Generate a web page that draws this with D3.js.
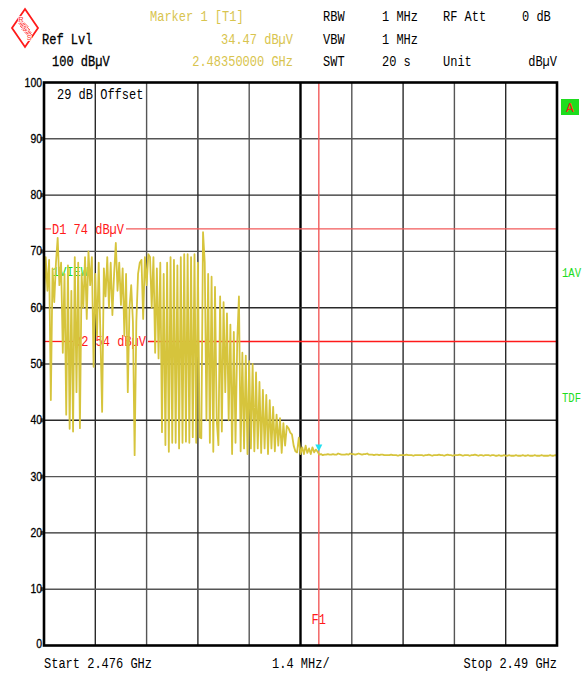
<!DOCTYPE html>
<html>
<head>
<meta charset="utf-8">
<script src="https://cdn.jsdelivr.net/npm/d3@7"></script>
<style>
body { margin: 0; background: white; }
</style>
</head>
<body>
<svg id="chart"></svg>
<script>
//Sweep settings (MHz)
var startFreq = 2476;
var stopFreq = 2490;
var markerFreq = 2483.5;
var markerLevel = 34.47;

//Y axis ticks (dBuV)
var yTicks = [0, 10, 20, 30, 40, 50, 60, 70, 80, 90, 100];
var yTickLabels = ["0", "10", "20", "30", "40", "50", "60", "70", "80", "90", "100"];

//Display lines
var lineNames = ["D1", "D2"];
var lineLevels = [74, 54];

//Trace levels, sweep points equally spaced from start to stop
var traceNoisy = [
    61, 69, 63, 68.5, 43.6, 67, 61, 68, 72.4, 64,
    68, 52, 66, 41, 67.5, 38.5, 63, 38, 69, 45,
    68, 38.6, 66, 60, 69, 58, 70, 64, 69, 49.5,
    66, 55, 68, 55, 41.5, 67, 62, 69, 60, 68,
    58.7, 66, 71.5, 63, 68, 60.5, 67, 55, 66, 45,
    60, 64, 57.5, 33.8, 57.5, 66, 68, 68.5, 58, 69,
    64, 69.5, 69, 60, 69, 52, 67, 51, 68, 37.9,
    66, 35.6, 68, 34.4, 69, 36, 68.5, 36, 67.5, 35,
    69, 36, 69.5, 36.2, 69.5, 36, 69, 37, 69.5, 36,
    68, 37, 36.8, 73.4, 68, 40, 66, 36, 65.5, 34.4,
    63.7, 40, 35.6, 62, 38, 61, 45, 59, 40, 57,
    34, 55.7, 36, 54, 62, 34.5, 52, 35, 51.5, 34,
    50.5, 35, 50, 34.5, 48.5, 35, 46.8, 34.2, 45.4, 35,
    44.5, 34, 43.6, 35, 42.4, 34.5, 41, 35.5, 40.4, 34.2,
    39.5, 35.5, 39, 38.6, 37.8, 37.5, 35.5, 34.5, 34.3, 36.9,
    34, 35.2, 34, 35.5, 34.2, 35, 34, 35.2, 34.3, 34.8,
    34.4
];
var traceFlat = [
    33.9, 34.0, 33.8, 33.9, 33.9, 34.0, 33.9, 33.9, 34.0, 33.9,
    33.9, 34.1, 34.0, 33.9, 33.9, 33.9, 34.0, 33.9, 34.1, 34.0,
    34.0, 33.9, 34.0, 34.1, 34.0, 33.9, 34.0, 34.0, 34.1, 33.9,
    33.9, 33.9, 33.8, 33.9, 33.9, 33.8, 33.9, 33.9, 33.8, 33.8,
    33.8, 33.8, 33.9, 33.8, 33.8, 33.8, 33.7, 33.8, 33.8, 33.8,
    33.8, 33.9, 33.8, 33.8, 33.8, 33.7, 33.8, 33.8, 33.8, 33.8,
    33.8, 33.7, 33.8, 33.8, 33.9, 33.8, 33.7, 33.8, 33.8, 33.8,
    33.9, 33.8, 33.8, 33.7, 33.8, 33.9, 33.8, 33.8, 33.7, 33.8,
    33.8, 33.8, 33.9, 33.8, 33.7, 33.8, 33.8, 33.8, 33.7, 33.8,
    33.8, 33.9, 33.8, 33.7, 33.8, 33.8, 33.7, 33.8, 33.8, 33.8,
    33.7, 33.8, 33.8, 33.7, 33.7, 33.8, 33.7, 33.7, 33.8, 33.7,
    33.7, 33.8, 33.7, 33.7, 33.7, 33.8, 33.7, 33.7, 33.7, 33.8,
    33.7, 33.7, 33.8, 33.7, 33.7, 33.7, 33.8, 33.7, 33.7, 33.7,
    33.8, 33.7, 33.7, 33.7, 33.7, 33.8, 33.7, 33.7, 33.8, 33.7
];
var traceLevels = traceNoisy.concat(traceFlat);

//Colors
var colors = {
    "trace": "#d6c43c",
    "marker": "#d8c44e",
    "red": "#ff1a1a",
    "lightRed": "#f25a5a",
    "green": "#1edc1e",
    "grid": "#2a2a2a",
    "cyan": "#22e0f0",
    "black": "black"
};

var svgWidth = 584;
var svgHeight = 673;
var plotLeft = 44, plotRight = 557, plotTop = 82.5, plotBottom = 645.5;
var mono = "'Liberation Mono', 'DejaVu Sans Mono', monospace";
var charW = 7.2;

var svg = d3.select("#chart").attr("width", svgWidth).attr("height", svgHeight);

var x = d3.scaleLinear().domain([startFreq, stopFreq]).range([plotLeft, plotRight]);
var y = d3.scaleLinear().domain([0, 100]).range([plotBottom, plotTop]);

//Write screen text squeezed to the analyzer's narrow font
function label(px, py, str, color, anchor) {
    return svg.append("text")
    .attr("x", px)
    .attr("y", py)
    .attr("text-anchor", anchor || "start")
    .attr("font-family", mono)
    .attr("font-size", 14)
    .attr("textLength", str.length * charW)
    .attr("lengthAdjust", "spacingAndGlyphs")
    .style("fill", color || colors["black"])
    .text(str);
}

//Header block
label(150, 21, "Marker 1 [T1]", colors["marker"]);
label(293, 44, "34.47 dB\u00b5V", colors["marker"], "end");
label(293, 66, "2.48350000 GHz", colors["marker"], "end");
label(42, 44, "Ref Lvl").style("stroke", "black").style("stroke-width", 0.3);
label(52, 66, "100 dB\u00b5V").style("stroke", "black").style("stroke-width", 0.3);
label(323, 21, "RBW");
label(382, 21, "1 MHz");
label(443, 21, "RF Att");
label(522, 21, "0 dB");
label(323, 44, "VBW");
label(382, 44, "1 MHz");
label(323, 66, "SWT");
label(382, 66, "20 s");
label(443, 66, "Unit");
label(557, 66, "dB\u00b5V", colors["black"], "end");

//R&S logo
svg.append("clipPath").attr("id", "logoClip")
.append("path").attr("d", "M0,-19 L13,0 L0,19 L-13,0 Z");
var logo = svg.append("g").attr("transform", "translate(25,28)");
logo.append("path")
.attr("d", "M0,-19 L13,0 L0,19 L-13,0 Z")
.attr("fill", "none")
.attr("stroke", colors["red"])
.attr("stroke-width", 1.8);
[-9, -6, -3, 0, 3, 6, 9].forEach(function(o) {
    logo.append("line")
    .attr("x1", -8 + o * 0.5).attr("y1", -8 + o)
    .attr("x2", 8 + o * 0.5).attr("y2", 8 + o)
    .attr("stroke", colors["red"]).attr("stroke-width", 0.7)
    .attr("clip-path", "url(#logoClip)");
});
[["R", -4, -6], ["&", 0, 3], ["S", 4, 12]].forEach(function(l) {
    logo.append("text")
    .attr("x", l[1]).attr("y", l[2])
    .attr("font-family", "'Liberation Sans', sans-serif")
    .attr("font-size", 7)
    .attr("text-anchor", "middle")
    .style("fill", colors["red"])
    .style("stroke", "white")
    .style("stroke-width", 1.5)
    .style("paint-order", "stroke")
    .text(l[0]);
});

//Grid
var xDivs = d3.range(0, 11).map(function(i) {return startFreq + i * (stopFreq - startFreq) / 10;});
svg.append("g").selectAll("line")
.data(xDivs.slice(1, 10))
.enter()
.append("line")
.attr("x1", function(d) {return x(d);})
.attr("x2", function(d) {return x(d);})
.attr("y1", plotTop)
.attr("y2", plotBottom)
.attr("stroke", function(d, i) {return i == 4 ? colors["black"] : (i % 2 ? "#555" : colors["grid"]);})
.attr("stroke-width", function(d, i) {return i == 4 ? 2.4 : 1.4;});

svg.append("g").selectAll("line")
.data(yTicks.slice(1, 10))
.enter()
.append("line")
.attr("x1", plotLeft)
.attr("x2", plotRight)
.attr("y1", function(d) {return y(d);})
.attr("y2", function(d) {return y(d);})
.attr("stroke", function(d, i) {return i % 2 ? colors["grid"] : "#555";})
.attr("stroke-width", 1.4);

//small ticks on the left edge
svg.append("g").selectAll("rect")
.data(yTicks.slice(1, 10))
.enter()
.append("rect")
.attr("x", plotLeft - 3.5)
.attr("y", function(d) {return y(d) - 2;})
.attr("width", 3)
.attr("height", 4)
.attr("fill", "#555");

//Y axis labels
svg.append("g").selectAll("text")
.data(yTicks)
.enter()
.append("text")
.attr("x", plotLeft - 2)
.attr("y", function(d) {return y(d) + (d == 0 ? 2 : 4);})
.attr("text-anchor", "end")
.attr("font-family", "'Liberation Sans', sans-serif")
.attr("font-size", 13)
.attr("textLength", function(d, i) {return yTickLabels[i].length * 5.8;})
.attr("lengthAdjust", "spacingAndGlyphs")
.style("fill", colors["black"])
.style("stroke", colors["black"])
.style("stroke-width", 0.3)
.text(function(d, i) {return yTickLabels[i];});

//Offset note and trace info
label(57, 99, "29 dB Offset");
label(52, 276, "1VIEW", colors["green"]).attr("font-size", 12);

//Display lines with labels
lineLevels.forEach(function(lv, i) {
    var txt = lineNames[i] + " " + lv + " dB\u00b5V";
    var tx = i == 0 ? 52 : 74;
    var ly = y(lv);
    svg.append("line")
    .attr("x1", plotLeft).attr("x2", tx - 1)
    .attr("y1", ly).attr("y2", ly)
    .attr("stroke", i == 0 ? colors["lightRed"] : colors["red"]).attr("stroke-width", 1.3);
    svg.append("line")
    .attr("x1", tx + txt.length * charW + 2).attr("x2", plotRight)
    .attr("y1", ly).attr("y2", ly)
    .attr("stroke", i == 0 ? colors["lightRed"] : colors["red"]).attr("stroke-width", 1.3);
    label(tx, ly + 5, txt, colors["red"]);
});

//Frequency line F1
svg.append("line")
.attr("x1", x(markerFreq)).attr("x2", x(markerFreq))
.attr("y1", plotTop).attr("y2", plotBottom)
.attr("stroke", colors["lightRed"])
.attr("stroke-width", 1.4);
label(x(markerFreq), 624, "F1", colors["red"], "middle");

//Trace
var step = (stopFreq - startFreq) / (traceLevels.length - 1);
var traceLine = d3.line()
.x(function(d, i) {return x(startFreq + i * step);})
.y(function(d) {return y(d);});

svg.append("path")
.datum(traceLevels)
.attr("d", traceLine)
.attr("fill", "none")
.attr("stroke", colors["trace"])
.attr("stroke-width", 1.8)
.attr("stroke-linejoin", "round");

//Marker 1
var mx = x(markerFreq), my = y(markerLevel);
svg.append("path")
.attr("d", "M" + (mx - 3.5) + "," + (my - 7) + " L" + (mx + 3.5) + "," + (my - 7) + " L" + mx + "," + my + " Z")
.attr("fill", colors["cyan"]);

//Frame
svg.append("rect")
.attr("x", plotLeft).attr("y", plotTop)
.attr("width", plotRight - plotLeft).attr("height", plotBottom - plotTop)
.attr("fill", "none")
.attr("stroke", colors["black"])
.attr("stroke-width", 2.6);

//Right side status
svg.append("rect")
.attr("x", 561).attr("y", 99)
.attr("width", 18).attr("height", 16)
.attr("fill", colors["green"]);
svg.append("text")
.attr("x", 570).attr("y", 112)
.attr("text-anchor", "middle")
.attr("font-family", mono)
.attr("font-size", 13)
.style("fill", colors["red"])
.text("A");
label(562, 277, "1AV", colors["green"]).attr("font-size", 12).attr("textLength", 19);
label(562, 402, "TDF", colors["green"]).attr("font-size", 12).attr("textLength", 19);

//Bottom labels
label(plotLeft, 668, "Start 2.476 GHz");
label(272, 668, "1.4 MHz/");
label(plotRight, 668, "Stop 2.49 GHz", colors["black"], "end");
</script>
</body>
</html>
